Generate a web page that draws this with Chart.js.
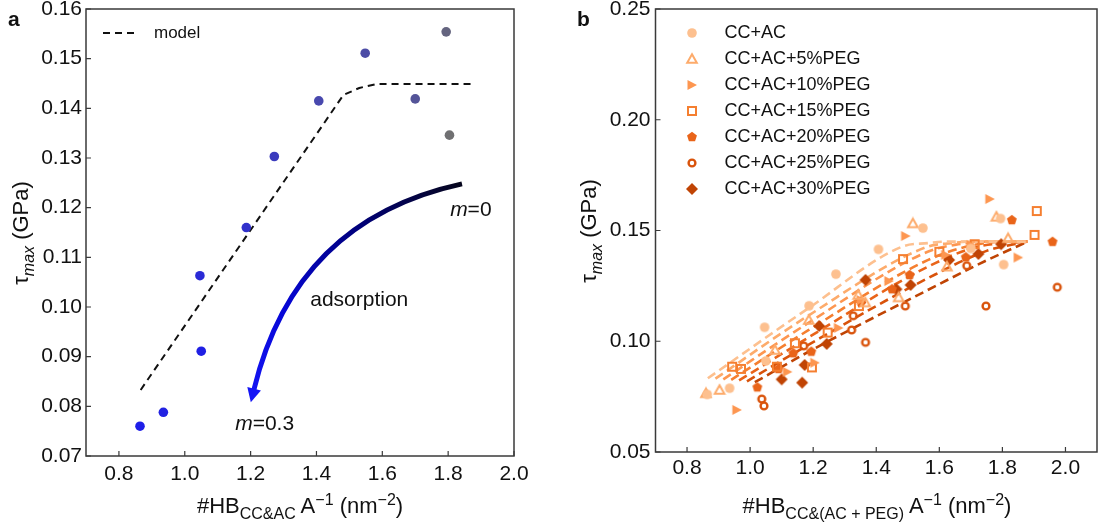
<!DOCTYPE html>
<html>
<head>
<meta charset="utf-8">
<script src="https://cdn.jsdelivr.net/npm/chart.js@4.4.1/dist/chart.umd.min.js"></script>
<style>
  body { margin: 0; background: #fff; width: 1103px; height: 527px; position: relative; overflow: hidden;
         font-family: "Liberation Sans", Arial, sans-serif; color: #111; }
  .box { position: absolute; top: 0; height: 527px; }
  #wa { left: 0; width: 540px; }
  #wb { left: 560px; width: 543px; }
  .lbl { position: absolute; font-weight: bold; font-size: 21px; }
  .xt { position: absolute; font-size: 22px; white-space: nowrap; transform: translateX(-50%); }
  .yt { position: absolute; font-size: 22px; white-space: nowrap; transform: translate(-50%, -50%) rotate(-90deg); }
  sub, sup { font-size: 16px; }
</style>
</head>
<body>
<div id="wa" class="box"><canvas id="ca" width="540" height="527"></canvas></div>
<div id="wb" class="box"><canvas id="cb" width="543" height="527"></canvas></div>

<div class="lbl" style="left:8px;top:7px">a</div>
<div class="lbl" style="left:577px;top:7px">b</div>
<div class="xt" style="left:300px;top:491px">#HB<sub>CC&amp;AC</sub> A<sup>−1</sup> (nm<sup>−2</sup>)</div>
<div class="xt" style="left:877px;top:491px">#HB<sub>CC&amp;(AC + PEG)</sub> A<sup>−1</sup> (nm<sup>−2</sup>)</div>
<div class="yt" style="left:23px;top:233px">τ<sub><i>max</i></sub> (GPa)</div>
<div class="yt" style="left:591px;top:231px">τ<sub><i>max</i></sub> (GPa)</div>

<script>
const FONT = '"Liberation Sans", Arial, sans-serif';

// --- panel a: CC+AC data and model ---
const aX = [0.864, 0.935, 1.046, 1.05, 1.187, 1.272, 1.407, 1.548, 1.7, 1.794, 1.804];
const aY = [0.076, 0.0788, 0.1063, 0.0911, 0.116, 0.1303, 0.1415, 0.1511, 0.1419, 0.1554, 0.1346];
const aColors = ['#1e1ee8', '#2222e2', '#2a2ad6', '#1f1fe4', '#3131cc', '#3b3bbd', '#4848ae', '#4c4ca6',
                 '#545498', '#64647f', '#707072'];
const aModelX = [0.866, 1.482, 1.53, 1.583, 1.872];
const aModelY = [0.0833, 0.1427, 0.1441, 0.1449, 0.1449];
const aXTicks = [0.8, 1.0, 1.2, 1.4, 1.6, 1.8, 2.0];
const aYTicks = [0.07, 0.08, 0.09, 0.10, 0.11, 0.12, 0.13, 0.14, 0.15, 0.16];

// --- panel b: PEG series ---
const bNames = ['CC+AC', 'CC+AC+5%PEG', 'CC+AC+10%PEG', 'CC+AC+15%PEG', 'CC+AC+20%PEG', 'CC+AC+25%PEG', 'CC+AC+30%PEG'];
const bColors = ['#fdc08f', '#fdab6b', '#fd9650', '#f57f30', '#e96419', '#d9530b', '#c04404'];
const ccX = [0.864, 0.935, 1.046, 1.05, 1.187, 1.272, 1.407, 1.548, 1.7, 1.794, 1.804];
const ccY = [0.076, 0.0788, 0.1063, 0.0911, 0.116, 0.1303, 0.1415, 0.1511, 0.1419, 0.1554, 0.1346];
const peg5X = [0.86, 0.903, 1.079, 1.186, 1.343, 1.365, 1.471, 1.516, 1.624, 1.781, 1.818];
const peg5Y = [0.0765, 0.078, 0.096, 0.1096, 0.1209, 0.1175, 0.1198, 0.1532, 0.1337, 0.1562, 0.1465];
const peg10X = [0.958, 1.118, 1.205, 1.28, 1.352, 1.44, 1.493, 1.62, 1.70, 1.76, 1.85];
const peg10Y = [0.069, 0.0862, 0.0903, 0.106, 0.1186, 0.1272, 0.1475, 0.139, 0.1435, 0.1642, 0.1378];
const peg15X = [0.943, 0.971, 1.085, 1.142, 1.196, 1.246, 1.345, 1.485, 1.600, 1.712, 1.902, 1.909];
const peg15Y = [0.0885, 0.0875, 0.0885, 0.0991, 0.0882, 0.1039, 0.1159, 0.1371, 0.1404, 0.1438, 0.148, 0.1588];
const peg20X = [1.023, 1.09, 1.137, 1.194, 1.352, 1.45, 1.506, 1.684, 1.830, 1.959];
const peg20Y = [0.0792, 0.0875, 0.0946, 0.0953, 0.1179, 0.1235, 0.1299, 0.1379, 0.1547, 0.1449];
const peg25X = [1.037, 1.044, 1.086, 1.170, 1.322, 1.327, 1.366, 1.492, 1.687, 1.748, 1.974];
const peg25Y = [0.0739, 0.0708, 0.0885, 0.0979, 0.1051, 0.1115, 0.0995, 0.1159, 0.1341, 0.1159, 0.1244];
const peg30X = [1.100, 1.165, 1.173, 1.219, 1.243, 1.366, 1.464, 1.509, 1.631, 1.724, 1.796];
const peg30Y = [0.0828, 0.0813, 0.0893, 0.1069, 0.0988, 0.1277, 0.1235, 0.1254, 0.1367, 0.1394, 0.1438];
// model curves, one per series (light -> dark)
const bModelX = [
  [0.866, 1.186, 1.482, 1.563, 1.62, 1.88],
  [0.89, 1.186, 1.563, 1.64, 1.70, 1.88],
  [0.915, 1.186, 1.563, 1.66, 1.75, 1.88],
  [0.94, 1.186, 1.563, 1.70, 1.80, 1.88],
  [0.965, 1.186, 1.563, 1.72, 1.88],
  [0.99, 1.186, 1.563, 1.75, 1.88],
  [1.015, 1.186, 1.563, 1.75, 1.88]
];
const bModelY = [
  [0.0833, 0.115, 0.1427, 0.1443, 0.145, 0.145],
  [0.0831, 0.1117, 0.1427, 0.1443, 0.145, 0.145],
  [0.0828, 0.1084, 0.1404, 0.1438, 0.145, 0.145],
  [0.0826, 0.1051, 0.1366, 0.1432, 0.1449, 0.145],
  [0.0823, 0.1018, 0.1336, 0.1426, 0.145],
  [0.0819, 0.0985, 0.1284, 0.1408, 0.145],
  [0.0815, 0.0953, 0.1231, 0.1365, 0.145]
];
const bXTicks = [0.8, 1.0, 1.2, 1.4, 1.6, 1.8, 2.0];
const bYTicks = [0.05, 0.10, 0.15, 0.20, 0.25];

// annotation anchors (data units)
const arrowFrom = [1.842, 0.1248];
const arrowBend = [1.335, 0.1175];
const arrowTo = [1.2006, 0.0808];
const notes = [
  { at: [1.806, 0.1194], parts: [['m', true], ['=0', false]] },
  { at: [1.381, 0.1014], parts: [['adsorption', false]] },
  { at: [1.153, 0.0764], parts: [['m', true], ['=0.3', false]] }
];

const pts = (xs, ys) => xs.map((x, i) => ({ x: x, y: ys[i] }));

function makeMarker(shape, color) {
  const c = document.createElement('canvas');
  c.width = 14; c.height = 14;
  const g = c.getContext('2d');
  g.fillStyle = color; g.strokeStyle = color; g.lineWidth = 2;
  g.beginPath();
  if (shape === 'dot') { g.arc(7, 7, 4.8, 0, Math.PI * 2); g.fill(); }
  else if (shape === 'triOpen') { g.moveTo(7, 2.2); g.lineTo(11.8, 10.8); g.lineTo(2.2, 10.8); g.closePath(); g.stroke(); }
  else if (shape === 'triRight') { g.moveTo(2.5, 2); g.lineTo(12, 7); g.lineTo(2.5, 12); g.closePath(); g.fill(); }
  else if (shape === 'square') { g.rect(3, 3, 8, 8); g.stroke(); }
  else if (shape === 'pentagon') {
    for (let k = 0; k < 5; k++) {
      const a = -Math.PI / 2 + k * 2 * Math.PI / 5;
      g.lineTo(7 + 5.2 * Math.cos(a), 7 + 5.2 * Math.sin(a));
    }
    g.closePath(); g.fill();
  }
  else if (shape === 'ring') { g.lineWidth = 2.4; g.arc(7, 7, 3.4, 0, Math.PI * 2); g.stroke(); }
  else if (shape === 'diamond') { g.moveTo(7, 1); g.lineTo(13, 7); g.lineTo(7, 13); g.lineTo(1, 7); g.closePath(); g.fill(); }
  return c;
}
const bShapes = ['dot', 'triOpen', 'triRight', 'square', 'pentagon', 'ring', 'diamond'];
const bMarkers = bShapes.map((s, i) => makeMarker(s, bColors[i]));

// --- frame + inward ticks ---
const framePlugin = {
  id: 'frame',
  afterDraw(chart) {
    const { ctx, chartArea: a, scales: { x, y } } = chart;
    ctx.save();
    ctx.strokeStyle = '#3a3a3a';
    ctx.lineWidth = 1.5;
    ctx.strokeRect(a.left, a.top, a.right - a.left, a.bottom - a.top);
    ctx.lineWidth = 1.2;
    ctx.beginPath();
    x.ticks.forEach(t => { const px = x.getPixelForValue(t.value); ctx.moveTo(px, a.bottom); ctx.lineTo(px, a.bottom - 5); });
    y.ticks.forEach(t => { const py = y.getPixelForValue(t.value); ctx.moveTo(a.left, py); ctx.lineTo(a.left + 5, py); });
    ctx.stroke();
    ctx.restore();
  }
};

const legendAPlugin = {
  id: 'legendA',
  afterDraw(chart) {
    const { ctx, chartArea: a } = chart;
    const ds = chart.data.datasets[1];
    const y = a.top + 24;
    ctx.save();
    ctx.strokeStyle = ds.borderColor; ctx.lineWidth = ds.borderWidth; ctx.setLineDash(ds.borderDash);
    ctx.beginPath(); ctx.moveTo(a.left + 17, y); ctx.lineTo(a.left + 52, y); ctx.stroke();
    ctx.setLineDash([]);
    ctx.fillStyle = '#111'; ctx.font = '17px ' + FONT; ctx.textBaseline = 'middle';
    ctx.fillText(ds.label, a.left + 68, y);
    ctx.restore();
  }
};

const legendBPlugin = {
  id: 'legendB',
  afterDraw(chart) {
    const { ctx, chartArea: a } = chart;
    ctx.save();
    ctx.fillStyle = '#111'; ctx.font = '18px ' + FONT; ctx.textBaseline = 'middle';
    bNames.forEach((name, i) => {
      const y = a.top + 24 + i * 26;
      const m = bMarkers[i];
      ctx.drawImage(m, a.left + 36.5 - m.width / 2, y - m.height / 2);
      ctx.fillText(name, a.left + 69, y);
    });
    ctx.restore();
  }
};

const arrowPlugin = {
  id: 'arrow',
  afterDatasetsDraw(chart) {
    const { ctx, scales: { x, y } } = chart;
    const P = p => [x.getPixelForValue(p[0]), y.getPixelForValue(p[1])];
    const [x0, y0] = P(arrowFrom), [cx, cy] = P(arrowBend), [x2, y2] = P(arrowTo);
    let dx = x2 - cx, dy = y2 - cy;
    const len = Math.hypot(dx, dy); dx /= len; dy /= len;
    const head = 14, half = 7;
    const bx = x2 - dx * head, by = y2 - dy * head;
    const g = ctx.createLinearGradient(x0, y0, x2, y2);
    g.addColorStop(0, '#06061c'); g.addColorStop(0.35, '#00007e'); g.addColorStop(0.7, '#0606d6'); g.addColorStop(1, '#1515f5');
    ctx.save();
    ctx.strokeStyle = g; ctx.lineWidth = 5; ctx.lineCap = 'butt';
    ctx.beginPath(); ctx.moveTo(x0, y0); ctx.quadraticCurveTo(cx, cy, bx + dx, by + dy); ctx.stroke();
    ctx.fillStyle = '#1515f5';
    ctx.beginPath(); ctx.moveTo(x2, y2);
    ctx.lineTo(bx - dy * half, by + dx * half); ctx.lineTo(bx + dy * half, by - dx * half);
    ctx.closePath(); ctx.fill();
    ctx.fillStyle = '#111'; ctx.textBaseline = 'middle';
    notes.forEach(n => {
      let [px, py] = P(n.at);
      n.parts.forEach(([txt, it]) => {
        ctx.font = (it ? 'italic ' : '') + '21px ' + FONT;
        ctx.fillText(txt, px, py);
        px += ctx.measureText(txt).width;
      });
    });
    ctx.restore();
  }
};

function axes(xmin, xmax, xt, ymin, ymax, yt, yw, xh, xpad, ypad) {
  const tickFont = { family: FONT, size: 21 };
  return {
    x: {
      type: 'linear', min: xmin, max: xmax,
      afterBuildTicks: s => { s.ticks = xt.map(v => ({ value: v })); },
      afterFit: s => { s.height = xh; s.paddingLeft = 0; s.paddingRight = 0; },
      grid: { display: false, drawTicks: false }, border: { display: false },
      ticks: { font: tickFont, color: '#111', padding: xpad, maxRotation: 0, autoSkip: false, callback: v => v.toFixed(1) }
    },
    y: {
      type: 'linear', min: ymin, max: ymax,
      afterBuildTicks: s => { s.ticks = yt.map(v => ({ value: v })); },
      afterFit: s => { s.width = yw; s.paddingTop = 0; s.paddingBottom = 0; },
      grid: { display: false, drawTicks: false }, border: { display: false },
      ticks: { font: tickFont, color: '#111', padding: ypad, autoSkip: false, callback: v => v.toFixed(2) }
    }
  };
}

new Chart(document.getElementById('ca'), {
  type: 'scatter',
  data: {
    datasets: [
      { label: 'data', data: pts(aX, aY), pointRadius: 4.8, pointBackgroundColor: aColors, pointBorderWidth: 0, order: 0 },
      { label: 'model', data: pts(aModelX, aModelY), showLine: true, pointRadius: 0, borderColor: '#111',
        borderWidth: 2, borderDash: [7, 5], tension: 0, order: 1 }
    ]
  },
  options: {
    responsive: false, animation: false, events: [],
    layout: { padding: { left: 0, top: 9, right: 26, bottom: 0 } },
    plugins: { legend: { display: false }, tooltip: { enabled: false } },
    scales: axes(0.7, 2.0, aXTicks, 0.07, 0.16, aYTicks, 86, 71, 6, 4)
  },
  plugins: [framePlugin, arrowPlugin, legendAPlugin]
});

const bPointSets = [[ccX, ccY], [peg5X, peg5Y], [peg10X, peg10Y], [peg15X, peg15Y], [peg20X, peg20Y], [peg25X, peg25Y], [peg30X, peg30Y]];
const bDatasets = bPointSets.map((s, i) => ({
  label: bNames[i], data: pts(s[0], s[1]), pointStyle: bMarkers[i], pointRadius: 5, order: 0
})).concat(bModelX.map((xs, i) => ({
  label: 'model ' + bNames[i], data: pts(xs, bModelY[i]), showLine: true, pointRadius: 0,
  borderColor: bColors[i], borderWidth: 2.6, borderDash: [9, 5], cubicInterpolationMode: 'monotone', order: 1
})));

new Chart(document.getElementById('cb'), {
  type: 'scatter',
  data: { datasets: bDatasets },
  options: {
    responsive: false, animation: false, events: [],
    layout: { padding: { left: 0, top: 9, right: 4, bottom: 0 } },
    plugins: { legend: { display: false }, tooltip: { enabled: false } },
    scales: axes(0.7, 2.1, bXTicks, 0.05, 0.25, bYTicks, 95.5, 75, 4, 5)
  },
  plugins: [framePlugin, legendBPlugin]
});
</script>
</body>
</html>
